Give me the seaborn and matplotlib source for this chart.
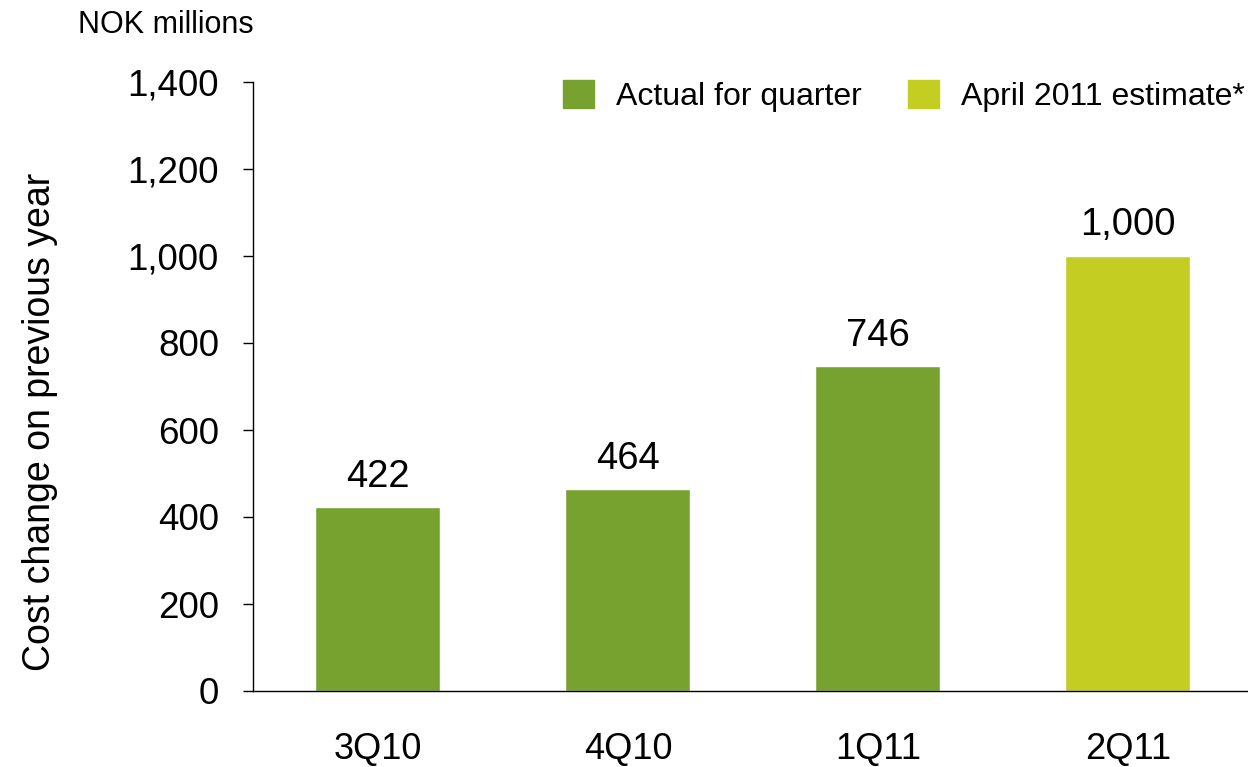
import numpy as np
import pandas as pd
import seaborn as sns
import matplotlib.pyplot as plt
from matplotlib.patches import Patch

quarters = ['3Q10', '4Q10', '1Q11', '2Q11']
values = [422, 464, 746, 1000]
kinds = ['Actual for quarter', 'Actual for quarter', 'Actual for quarter', 'April 2011 estimate*']
labels = ['422', '464', '746', '1,000']

actual_color = '#78a22f'
estimate_color = '#c4ce22'

df = pd.DataFrame({'quarter': quarters, 'value': values, 'kind': kinds})

sns.set_style('white')
plt.rcParams['font.family'] = ['Liberation Sans', 'DejaVu Sans']
plt.rcParams['text.color'] = 'black'
plt.rcParams['axes.labelcolor'] = 'black'
plt.rcParams['xtick.color'] = 'black'
plt.rcParams['ytick.color'] = 'black'

fig = plt.figure(figsize=(12.48, 7.67), dpi=100)
ax = fig.add_axes([253 / 1248, (767 - 691) / 767, 1 - 253 / 1248 + 0.004, (691 - 82) / 767])

palette = {'Actual for quarter': actual_color, 'April 2011 estimate*': estimate_color}
sns.barplot(data=df, x='quarter', y='value', hue='kind', palette=palette, dodge=False,
            width=0.5, saturation=1, ax=ax, legend=False)

ax.set_xlim(-0.5, 3.5)
ax.set_ylim(0, 1400)
ax.set_yticks(range(0, 1401, 200))
ax.set_yticklabels([f'{v:,}' for v in range(0, 1401, 200)])
ax.tick_params(axis='y', labelsize=26.5, length=7.5, width=1, direction='out', left=True, pad=17)
ax.tick_params(axis='x', labelsize=26, length=0, pad=29.5)
ax.set_xlabel(None)
ax.set_ylabel('Cost change on previous year', fontsize=27, labelpad=50)
ax.yaxis.label.set_y(0.442)

for s in ['top', 'right']:
    ax.spines[s].set_visible(False)
for s in ['left', 'bottom']:
    ax.spines[s].set_color('black')
    ax.spines[s].set_linewidth(1)

for i, (v, lab) in enumerate(zip(values, labels)):
    ax.annotate(lab, (i, v), xytext=(0, 9), textcoords='offset points',
                ha='center', va='bottom', fontsize=27.5)

handles = [Patch(color=actual_color, label='Actual for quarter'),
           Patch(color=estimate_color, label='April 2011 estimate*')]
fig.legend(handles=handles, loc='center right', bbox_to_anchor=(1245 / 1248, 1 - 96 / 767),
           bbox_transform=fig.transFigure, ncol=2, frameon=False, fontsize=23,
           handlelength=0.97, handleheight=0.97, columnspacing=1.45, handletextpad=0.69,
           borderpad=0, borderaxespad=0)

fig.text(78 / 1248, 1 - 25 / 767, 'NOK millions', fontsize=22, va='center', ha='left')

fig.savefig('out.png', dpi=100)
